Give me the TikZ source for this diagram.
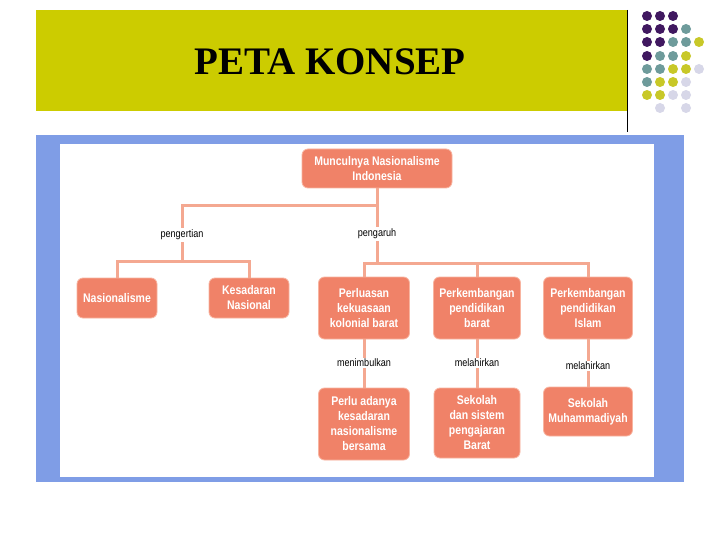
\documentclass[tikz,border=0pt]{standalone}
\usepackage{fontspec}
\usepackage{tikz}
\newfontfamily\titlefont{Liberation Serif}
\newfontfamily\boxfont[FakeStretch=0.84]{Liberation Sans}

\definecolor{titlegreen}{RGB}{204,204,0}
\definecolor{framblue}{RGB}{127,157,230}
\definecolor{boxsalmon}{RGB}{240,130,104}
\definecolor{boxedge}{RGB}{248,180,160}
\definecolor{linesalmon}{RGB}{244,168,145}
\definecolor{dotpurple}{RGB}{64,24,96}
\definecolor{dotteal}{RGB}{110,155,155}
\definecolor{dotyellow}{RGB}{200,200,40}
\definecolor{dotlilac}{RGB}{215,215,232}

\tikzset{
  conceptbox/.style={rectangle, rounded corners=6pt, fill=boxsalmon, draw=boxedge,
    line width=0.8pt, text=white, align=center, inner sep=2pt,
    font=\boxfont\bfseries\fontsize{12.5}{15}\selectfont},
  conn/.style={draw=linesalmon, line width=3pt},
  lbl/.style={fill=white, inner sep=1.5pt, font=\boxfont\fontsize{10.8}{12}\selectfont}
}

\begin{document}
\begin{tikzpicture}[x=1pt, y=-1pt]
        \useasboundingbox (0,0) rectangle (720,540);
        \fill[white] (0,0) rectangle (720,540);

        \fill[titlegreen] (36,10) rectangle (627,111);
        \draw[black, line width=0.8pt] (627,10) -- (627,132);
        \node[font=\titlefont\bfseries\fontsize{39}{44}\selectfont] (title) at (330,62) {PETA KONSEP};

        \foreach \cx/\cy/\cc in {647/16/dotpurple, 660/16/dotpurple, 673/16/dotpurple,
            647/29/dotpurple, 660/29/dotpurple, 673/29/dotpurple, 686/29/dotteal,
            647/42/dotpurple, 660/42/dotpurple, 673/42/dotteal, 686/42/dotteal, 699/42/dotyellow,
            647/56/dotpurple, 660/56/dotteal, 673/56/dotteal, 686/56/dotyellow,
            647/69/dotteal, 660/69/dotteal, 673/69/dotyellow, 686/69/dotyellow, 699/69/dotlilac,
            647/82/dotteal, 660/82/dotyellow, 673/82/dotyellow, 686/82/dotlilac,
            647/95/dotyellow, 660/95/dotyellow, 673/95/dotlilac, 686/95/dotlilac,
            660/108/dotlilac, 686/108/dotlilac}
            \fill[\cc] (\cx,\cy) circle (5pt);

        \fill[framblue] (36,135) rectangle (684,482);
        \fill[white] (60,144) rectangle (654,477);

        \node[conceptbox, minimum width=150pt, minimum height=39pt] (root) at (377,168.5)
            {Munculnya Nasionalisme\\Indonesia};

        \node[conceptbox, minimum width=80pt, minimum height=40pt] (nas) at (117,298) {Nasionalisme};
        \node[conceptbox, minimum width=80pt, minimum height=40pt] (kes) at (249,298) {Kesadaran\\Nasional};

        \node[conceptbox, minimum width=91pt, minimum height=62pt] (perl) at (364,308)
            {Perluasan\\kekuasaan\\kolonial barat};
        \node[conceptbox, minimum width=87pt, minimum height=62pt] (pbar) at (477,308)
            {Perkembangan\\pendidikan\\barat};
        \node[conceptbox, minimum width=89pt, minimum height=62pt] (pisl) at (588,308)
            {Perkembangan\\pendidikan\\Islam};

        \node[conceptbox, minimum width=91pt, minimum height=72pt] (kesb) at (364,424)
            {Perlu adanya\\kesadaran\\nasionalisme\\bersama};
        \node[conceptbox, minimum width=86pt, minimum height=70pt] (seko) at (477,423)
            {Sekolah\\dan sistem\\pengajaran\\Barat};
        \node[conceptbox, minimum width=89pt, minimum height=49pt] (muha) at (588,411.5)
            {Sekolah\\Muhammadiyah};

        \coordinate (lj) at (182,261);
        \coordinate (rj) at (377,263);

        \draw[conn] (root.south) -- ++(0,17) -| (lj);
        \draw[conn] (nas.north) |- (lj) -| (kes.north);
        \draw[conn] (root.south) -- (rj);
        \draw[conn] (perl.north) |- (rj) -| (pisl.north);
        \draw[conn] (pbar.north) -- (pbar.north |- rj);
        \draw[conn] (perl.south) -- (kesb.north);
        \draw[conn] (pbar.south) -- (seko.north);
        \draw[conn] (pisl.south) -- (muha.north);

        \node[lbl] (lpeng) at (182,235) {pengertian};
        \node[lbl] (lpgr) at (377,234) {pengaruh};
        \node[lbl] (lmen) at (364,363) {menimbulkan};
        \node[lbl] (lmel) at (477,363) {melahirkan};
        \node[lbl] (lmel2) at (588,366) {melahirkan};
\end{tikzpicture}
\end{document}
